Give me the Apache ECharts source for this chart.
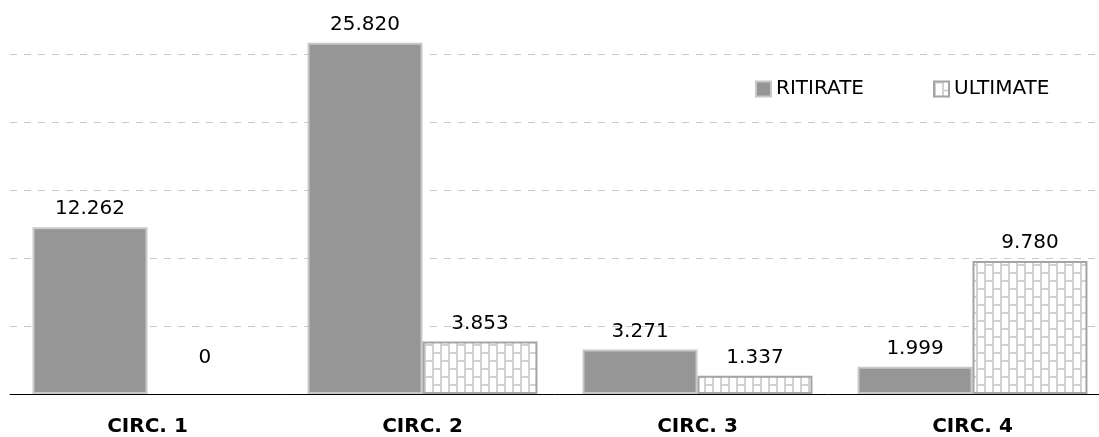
<!DOCTYPE html>
<html>
<head>
<meta charset="utf-8">
<script src="https://cdn.jsdelivr.net/npm/echarts@6/dist/echarts.min.js"></script>
<style>
html, body { margin: 0; padding: 0; background: #fff; }
#chart { width: 1099px; height: 437px; }
</style>
</head>
<body>
<div id="chart"></div>
<script>
// dati
var categorie = ['CIRC. 1', 'CIRC. 2', 'CIRC. 3', 'CIRC. 4'];
var ritirate = [12262, 25820, 3271, 1999];
var ultimate = [0, 3853, 1337, 9780];

function formatta(v) {// separatore delle migliaia con il punto
    return String(v).replace(/\B(?=(\d{3})+(?!\d))/g, '.');
}

function mattoni() {// motivo a mattoni verticali per la serie ULTIMATE
    var c = document.createElement('canvas');
    c.width = 16; c.height = 16;
    var ctx = c.getContext('2d');
    ctx.fillStyle = '#ffffff';
    ctx.fillRect(0, 0, 16, 16);
    ctx.fillStyle = '#d2d2d2';
    ctx.fillRect(0, 0, 2, 16);
    ctx.fillRect(8, 0, 2, 16);
    ctx.fillRect(0, 0, 8, 2);
    ctx.fillRect(8, 8, 8, 2);
    return c;
}

// la barra a zero non ha bordo e l'etichetta sta più in alto
var datiUltimate = ultimate.map(function (v) {
    return v === 0 ? { value: v, itemStyle: { borderWidth: 0 }, label: { distance: 26 } } : v;
});

var font = 'DejaVu Sans';
var etichetta = {
    show: true, position: 'top', distance: 8, fontFamily: font, fontSize: 20, color: '#000',
    formatter: function (p) { return formatta(p.value); }
};
var testoLegenda = { fontFamily: font, fontSize: 20, color: '#000' };
var myChart = echarts.init(document.getElementById('chart'));
option = {
    animation: false,
    textStyle: { fontFamily: font },
    grid: { left: 10, right: -11, top: -14, bottom: 43, containLabel: false, outerBoundsMode: 'none' },
    legend: [
        { left: 755, top: 79, padding: 0, icon: 'rect', itemWidth: 15, itemHeight: 15, itemGap: 0, selectedMode: false,
          textStyle: testoLegenda, data: ['RITIRATE'] },
        { left: 933, top: 79, padding: 0, icon: 'rect', itemWidth: 15, itemHeight: 15, itemGap: 0, selectedMode: false,
          textStyle: testoLegenda, data: ['ULTIMATE'] }
    ],
    xAxis: {
        type: 'category',
        data: categorie,
        axisLine: { lineStyle: { color: '#000', width: 1 } },
        axisTick: { length: 8, lineStyle: { color: '#808080' } },
        axisLabel: { margin: 23, fontFamily: font, fontSize: 20, fontWeight: 'bold', color: '#000' }
    },
    yAxis: {
        type: 'value', min: 0, max: 30000, interval: 5000,
        axisLine: { show: false }, axisTick: { show: false }, axisLabel: { show: false },
        splitLine: { lineStyle: { color: '#c8c8c8', type: [7, 7] } }
    },
    series: [
        {
            name: 'RITIRATE', type: 'bar', data: ritirate,
            barGap: '0%', barCategoryGap: '16.4%',
            itemStyle: { color: '#969696', borderColor: '#c8c8c8', borderWidth: 2 },
            label: etichetta
        },
        {
            name: 'ULTIMATE', type: 'bar', data: datiUltimate,
            itemStyle: { color: { image: mattoni(), repeat: 'repeat' }, borderColor: '#a4a4a4', borderWidth: 2 },
            label: etichetta
        }
    ]
};
myChart.setOption(option);
</script>
</body>
</html>
